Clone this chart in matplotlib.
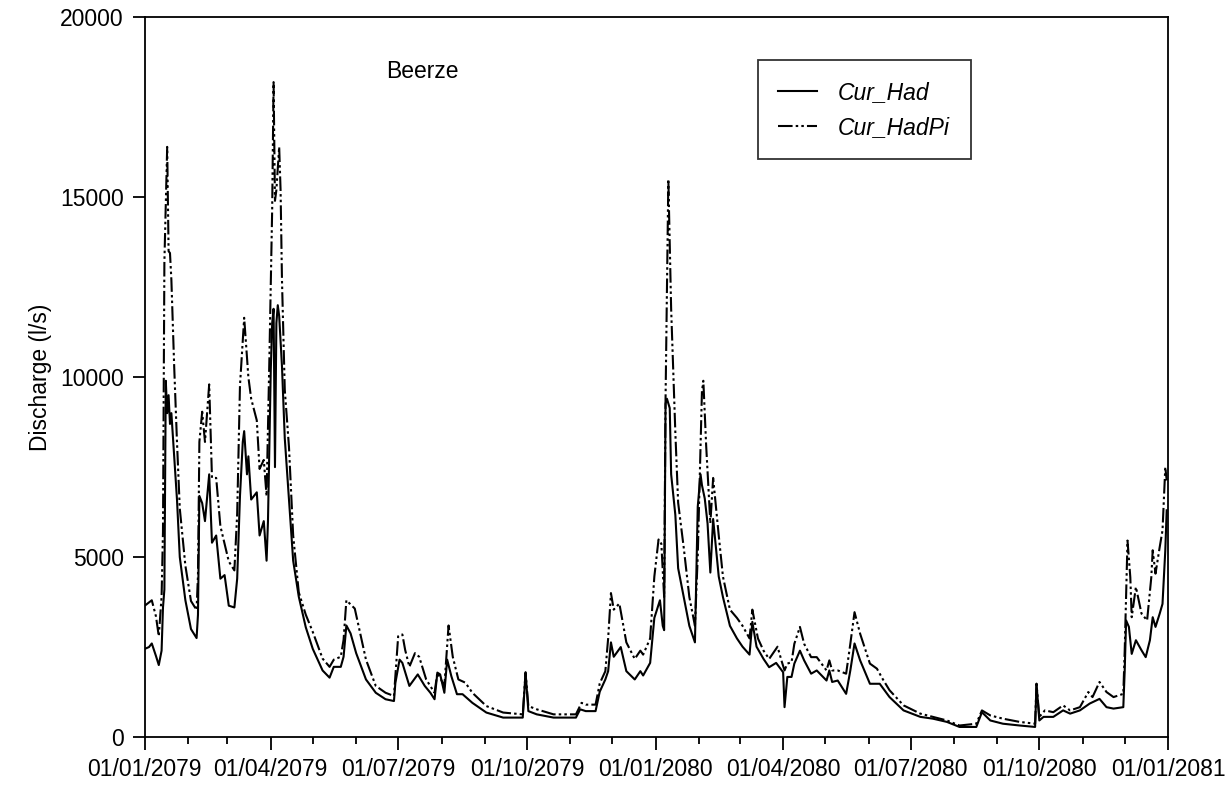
import numpy as np
import pandas as pd
import matplotlib
matplotlib.use("Agg")
import matplotlib.pyplot as plt
import matplotlib.dates as mdates

# days counted from 01/01/2079, discharge in l/s
had_days = [0, 3, 5, 8, 10, 12, 13, 14, 15, 16, 17, 18, 19, 20, 23, 25, 29, 33, 37, 38,
            39, 41, 43, 46, 48, 51, 54, 57, 60, 64, 66, 68, 70, 71, 73, 74, 76, 80, 82, 85,
            87, 88, 90, 91, 92, 93, 94, 95, 96, 98, 100, 103, 106, 110, 115, 120, 127, 132, 135, 140,
            142, 144, 147, 151, 158, 165, 172, 178, 179, 182, 184, 189, 195, 200, 204, 207, 209, 211, 214, 216,
            219, 223, 227, 234, 244, 256, 270, 272, 274, 280, 292, 308, 311, 315, 322, 325, 329, 331, 333, 335,
            340, 344, 350, 354, 356, 361, 364, 368, 370, 371, 372, 373, 375, 376, 379, 381, 385, 389, 393, 395,
            397, 398, 400, 402, 404, 406, 410, 413, 418, 423, 427, 432, 434, 437, 442, 446, 451, 455, 456, 457,
            459, 462, 464, 468, 471, 476, 480, 487, 489, 491, 495, 501, 504, 507, 511, 518, 525, 532, 542, 554,
            563, 573, 582, 594, 598, 604, 613, 625, 636, 637, 639, 642, 649, 656, 661, 668, 675, 682, 687, 692,
            699, 700, 701, 703, 705, 708, 712, 715, 718, 720, 722, 725, 727, 729, 730]
had_q = [2450, 2500, 2600, 2250, 2000, 2400, 3600, 4100, 9900, 9000, 9500, 8700, 9000, 8400, 6600, 5000, 3800, 3000, 2750, 3400,
         6700, 6500, 6000, 7300, 5400, 5600, 4400, 4500, 3650, 3600, 4400, 6700, 8200, 8500, 7300, 7800, 6600, 6800, 5600, 6000,
         4900, 6000, 10200, 11500, 11900, 7500, 11500, 12000, 11700, 10300, 8300, 6600, 4900, 3900, 3050, 2450, 1850, 1650, 1950, 1950,
         2230, 3100, 2880, 2330, 1600, 1230, 1050, 1000, 1500, 2150, 2060, 1420, 1740, 1420, 1230, 1050, 1790, 1740, 1230, 2150,
         1690, 1190, 1190, 950, 680, 540, 540, 1800, 720, 630, 540, 540, 770, 720, 720, 1260, 1600, 1830, 2630, 2230,
         2500, 1830, 1600, 1830, 1710, 2060, 3310, 3800, 3090, 2970, 9260, 9400, 9140, 7300, 6170, 4690, 3890, 3090, 2630, 6400,
         7300, 7000, 6630, 5940, 4570, 6060, 4460, 3890, 3090, 2740, 2510, 2290, 3200, 2510, 2170, 1940, 2060, 1850, 1800, 830,
         1670, 1670, 2040, 2400, 2130, 1760, 1850, 1570, 1850, 1530, 1570, 1200, 1850, 2600, 2130, 1480, 1480, 1110, 740, 560,
         510, 420, 280, 280, 690, 460, 370, 320, 280, 1480, 460, 560, 560, 740, 650, 740, 930, 1060, 830, 790,
         830, 1850, 3240, 3060, 2310, 2690, 2410, 2220, 2690, 3330, 3060, 3430, 3700, 5190, 6300]

hadpi_days = [0, 5, 8, 10, 12, 13, 14, 16, 17, 18, 19, 21, 23, 25, 29, 33, 37, 38, 39, 41,
              43, 46, 48, 51, 54, 60, 64, 66, 68, 71, 74, 76, 80, 82, 85, 87, 89, 91, 92, 93,
              94, 96, 97, 98, 100, 103, 106, 110, 115, 120, 127, 132, 135, 140, 142, 144, 150, 158, 165, 172,
              178, 181, 184, 186, 189, 193, 196, 201, 207, 209, 214, 217, 220, 224, 229, 234, 244, 256, 270, 272,
              274, 280, 292, 308, 312, 315, 322, 325, 329, 331, 333, 335, 339, 344, 350, 354, 356, 361, 364, 367,
              369, 371, 372, 374, 376, 379, 381, 385, 389, 393, 395, 398, 399, 401, 404, 406, 410, 413, 418, 423,
              427, 432, 434, 438, 442, 446, 452, 455, 457, 459, 462, 464, 468, 471, 476, 480, 487, 489, 491, 495,
              501, 504, 507, 511, 518, 523, 527, 532, 542, 554, 563, 573, 582, 594, 598, 604, 613, 625, 636, 637,
              639, 643, 649, 656, 661, 668, 674, 677, 682, 687, 692, 699, 700, 702, 704, 705, 708, 712, 716, 719,
              720, 722, 725, 727, 729, 730]
hadpi_q = [3650, 3800, 3350, 2800, 3900, 5700, 13200, 16400, 13500, 13450, 12700, 10300, 8200, 6350, 4760, 3780, 3530, 4500, 8200, 9040,
           8200, 9800, 7200, 7200, 5860, 4880, 4630, 6200, 9770, 11650, 10000, 9400, 8800, 7450, 7700, 6700, 10500, 14670, 18200, 14900,
           15200, 16400, 15200, 12700, 9650, 8060, 5600, 4020, 3400, 2920, 2180, 1950, 2150, 2230, 2700, 3800, 3570, 2150, 1420, 1230,
           1140, 2800, 2850, 2420, 1950, 2330, 2230, 1600, 1230, 1790, 1420, 3100, 2230, 1600, 1510, 1230, 860, 680, 630, 1790,
           860, 770, 630, 630, 950, 900, 900, 1490, 1830, 2740, 4000, 3540, 3710, 2630, 2170, 2400, 2290, 2740, 4460, 5490,
           5370, 3890, 9370, 15500, 11900, 8460, 6510, 5260, 3890, 3090, 5030, 9600, 9900, 8110, 5940, 7200, 5600, 4460, 3540, 3310,
           3090, 2740, 3540, 2740, 2400, 2170, 2510, 2100, 1850, 2040, 2080, 2590, 3060, 2590, 2220, 2220, 1850, 2130, 1850, 1850,
           1760, 2590, 3470, 2870, 2040, 1900, 1620, 1300, 880, 650, 560, 460, 320, 370, 740, 600, 510, 420, 370, 1480,
           560, 740, 690, 880, 740, 830, 1250, 1110, 1530, 1250, 1110, 1200, 2400, 5460, 4440, 3330, 4170, 3430, 3240, 4440,
           5190, 4540, 5280, 5740, 7500, 7130]

start = pd.Timestamp("2079-01-01")
had_t = start + pd.to_timedelta(had_days, unit="D")
hadpi_t = start + pd.to_timedelta(hadpi_days, unit="D")

plt.rcParams['font.family'] = ['Liberation Sans', 'DejaVu Sans']
fs = 16.5

fig = plt.figure(figsize=(12.27, 7.87), dpi=100)
ax = fig.add_axes([0.118, 0.0635, 0.834, 0.9145])

ax.plot(had_t.to_pydatetime(), had_q, color='black', lw=1.5, label='Cur_Had')
ax.plot(hadpi_t.to_pydatetime(), hadpi_q, color='black', lw=1.5,
        linestyle=(0, (7, 1.5, 1.2, 1.5, 1.2, 1.5)), label='Cur_HadPi')

ax.set_xlim(pd.Timestamp("2079-01-01").to_pydatetime(), pd.Timestamp("2081-01-01").to_pydatetime())
ax.set_ylim(0, 20000)
ax.set_yticks([0, 5000, 10000, 15000, 20000])

ax.xaxis.set_major_locator(mdates.MonthLocator(bymonth=[1, 4, 7, 10]))
ax.xaxis.set_minor_locator(mdates.MonthLocator())
ax.xaxis.set_major_formatter(mdates.DateFormatter('%d/%m/%Y'))

ax.tick_params(axis='both', which='major', direction='out', length=9, width=1.3, labelsize=fs, pad=6)
ax.tick_params(axis='x', which='minor', direction='out', length=5, width=1.3)
for s in ax.spines.values():
    s.set_linewidth(1.3)

ax.set_ylabel('Discharge (l/s)', fontsize=fs, labelpad=6)
ax.text(0.236, 0.915, 'Beerze', transform=ax.transAxes, fontsize=fs)

leg = ax.legend(loc='upper left', bbox_to_anchor=(0.599, 0.94), fontsize=fs, frameon=True,
                fancybox=False, shadow=False, handlelength=1.7, handletextpad=0.9,
                borderpad=0.9, labelspacing=0.5, borderaxespad=0)
leg.get_frame().set_edgecolor('black')
leg.get_frame().set_linewidth(1.3)
for t in leg.get_texts():
    t.set_fontstyle('italic')

fig.savefig('out.png', dpi=100)
